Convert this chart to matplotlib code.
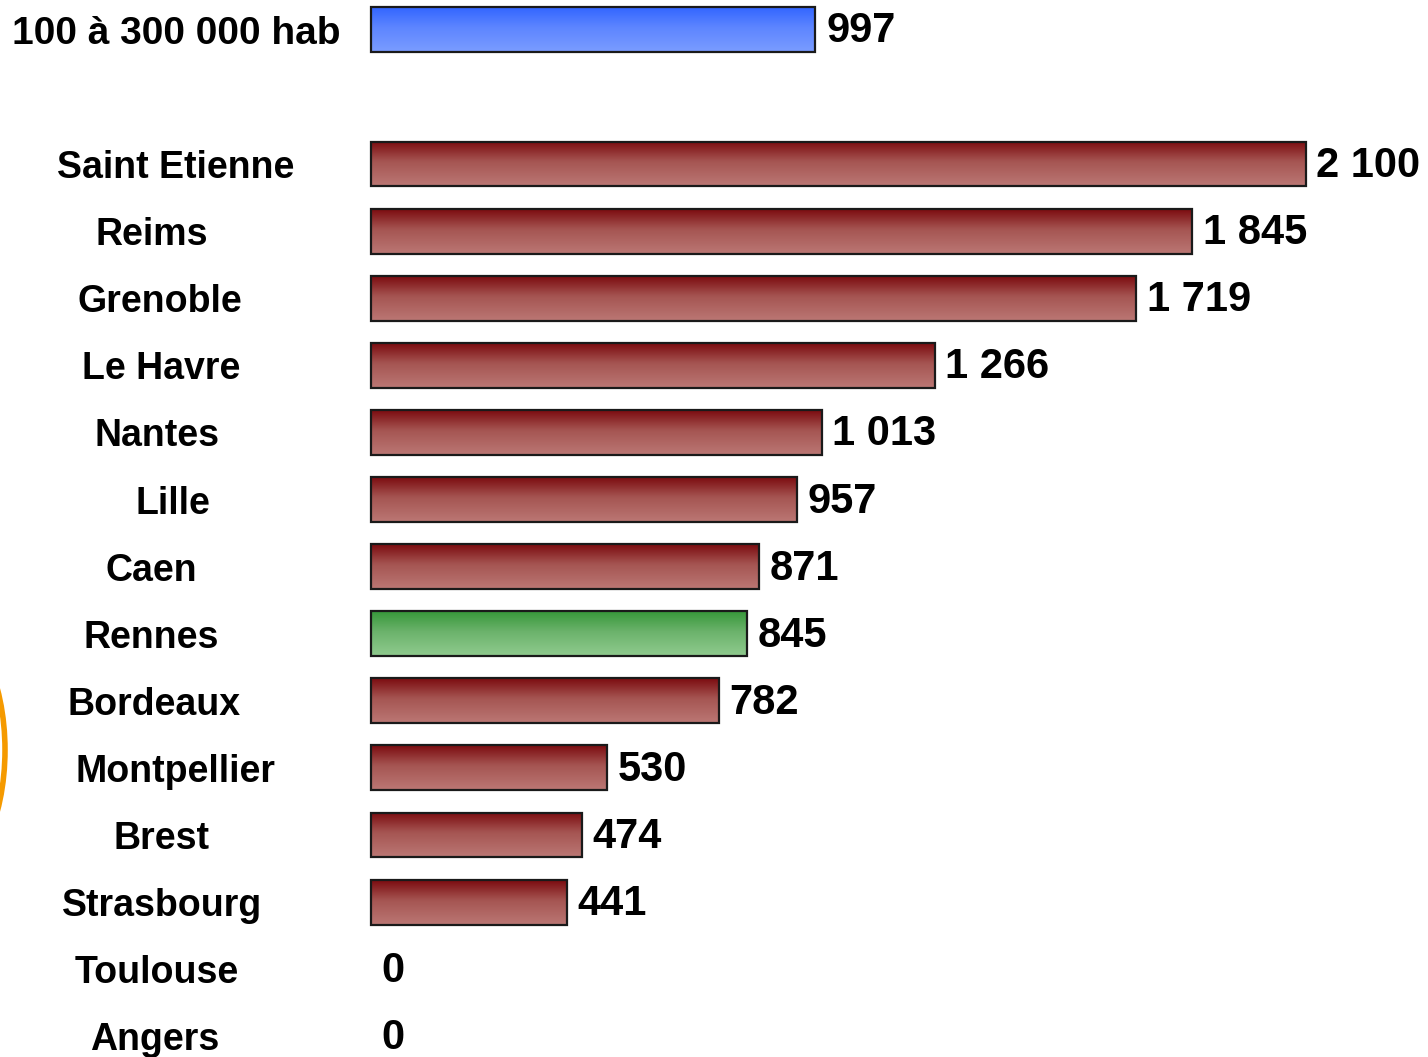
import numpy as np
import matplotlib
matplotlib.use("Agg")
import matplotlib.pyplot as plt
from matplotlib.colors import LinearSegmentedColormap
from matplotlib.patches import Ellipse
from matplotlib.transforms import blended_transform_factory

plt.rcParams["font.family"] = ["Liberation Sans", "DejaVu Sans"]
plt.rcParams["font.weight"] = "bold"

top_label = "100 à 300 000 hab"
top_value = 997

cities = ["Saint Etienne", "Reims", "Grenoble", "Le Havre", "Nantes", "Lille",
          "Caen", "Rennes", "Bordeaux", "Montpellier", "Brest", "Strasbourg",
          "Toulouse", "Angers"]
values = [2100, 1845, 1719, 1266, 1013, 957, 871, 845, 782, 530, 474, 441, 0, 0]
highlight = "Rennes"

# horizontal centre (px) of each city label, as placed in the original slide
label_centers_px = [176, 152, 160, 161, 157, 173, 151, 151, 154, 175, 161,
                    162, 157, 155]


def fmt(v):
    return f"{v:,}".replace(",", " ")


red_cmap = LinearSegmentedColormap.from_list(
    "red", [(0, "#7c0c10"), (0.45, "#a55552"), (1, "#bb7774")])
blue_cmap = LinearSegmentedColormap.from_list(
    "blue", [(0, "#3366ff"), (0.45, "#5d85ff"), (1, "#7a9cff")])
green_cmap = LinearSegmentedColormap.from_list(
    "green", [(0, "#37983a"), (0.45, "#6bb26b"), (1, "#8fca8e")])

fig = plt.figure(figsize=(14.28, 10.57), dpi=100)
ax = fig.add_axes([0, 0, 1, 1])
px_per_unit = (1306 - 371) / 2100
ax.set_xlim(-371 / px_per_unit, (1428 - 371) / px_per_unit)
row_px = 67.1
ax.set_ylim((1057 - 164) / row_px, -164 / row_px)
ax.axis("off")

grad = np.linspace(0, 1, 64).reshape(-1, 1)
bar_h = 0.67


def draw_bar(y, v, cmap):
    if v <= 0:
        return
    ax.imshow(grad, cmap=cmap, aspect="auto", interpolation="bilinear",
              extent=(0, v, y + bar_h / 2, y - bar_h / 2), zorder=1)
    ax.barh(y, v, height=bar_h, color="none", edgecolor="#1a1a1a",
            linewidth=1.6, zorder=2)


ypos = np.arange(len(cities))
top_y = -2
draw_bar(top_y, top_value, blue_cmap)
for y, c, v in zip(ypos, cities, values):
    draw_bar(y, v, green_cmap if c == highlight else red_cmap)

lbl_tr = blended_transform_factory(ax.transAxes, ax.transData)
ax.text(12 / 1428, top_y + 0.07, top_label, transform=lbl_tr, ha="left",
        va="center", fontsize=28, fontweight="bold")
ax.annotate(fmt(top_value), (top_value, top_y + 0.02), xytext=(8, 0),
            textcoords="offset points", ha="left", va="center",
            fontsize=30, fontweight="bold")

for y, c, v, cx in zip(ypos, cities, values, label_centers_px):
    ax.text(cx / 1428, y + 0.06, c, transform=lbl_tr, ha="center",
            va="center", fontsize=27, fontweight="bold")
    ax.annotate(fmt(v), (v, y + 0.03), xytext=(7.5, 0),
                textcoords="offset points", ha="left", va="center",
                fontsize=30, fontweight="bold")

# orange decoration partly off the left edge
fig.patches.append(Ellipse((-0.6, (1057 - 750) / 100), 1.3, 2.6,
                           transform=fig.dpi_scale_trans, fill=False,
                           edgecolor="#f59a00", linewidth=4))

fig.savefig("out.png", dpi=100)
